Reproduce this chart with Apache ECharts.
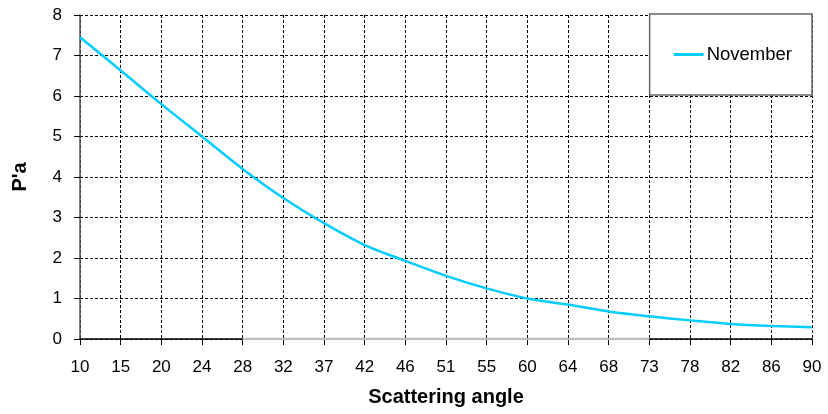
<!DOCTYPE html>
<html>
<head>
<meta charset="utf-8">
<script src="https://cdn.jsdelivr.net/npm/echarts@6/dist/echarts.min.js"></script>
<style>
  html, body { margin: 0; padding: 0; background: #fff; }
  #chart { width: 828px; height: 414px; }
</style>
</head>
<body>
<div id="chart"></div>
<script>
// Scattering angle categories (degrees)
const angles = ['10', '15', '20', '24', '28', '32', '37', '42', '46', '51', '55', '60', '64', '68', '73', '78', '82', '86', '90'];
// P'a values for November
const november = [7.45, 6.63, 5.8, 5.0, 4.2, 3.48, 2.86, 2.32, 1.93, 1.56, 1.25, 1.0, 0.85, 0.68, 0.56, 0.46, 0.37, 0.32, 0.29];
// Baseline trace lying on zero
const baseline = [null, null, null, null, 0, 0, 0, 0, 0, 0, 0, 0, 0, 0, 0, null, null, null, null];
const yTicks = { min: 0, max: 8, interval: 1 };

const font = '"Liberation Sans", Arial, sans-serif';
const chart = echarts.init(document.getElementById('chart'), null, { renderer: 'canvas' });

chart.setOption({
  animation: false,
  backgroundColor: '#ffffff',
  grid: { left: 80, right: 16, top: 15, bottom: 75, containLabel: false },
  legend: {
    data: ['November'],
    right: 16,
    top: 14,
    padding: [31, 20, 31, 24],
    backgroundColor: '#ffffff',
    borderColor: '#666666',
    borderWidth: 1.5,
    borderRadius: 0,
    itemWidth: 30,
    itemHeight: 3,
    itemGap: 4,
    icon: 'rect',
    textStyle: { fontFamily: font, fontSize: 18.5, color: '#000', padding: [0, 0, 0, -2] }
  },
  xAxis: {
    type: 'category',
    data: angles,
    boundaryGap: false,
    name: 'Scattering angle',
    nameLocation: 'middle',
    nameGap: 48,
    nameTextStyle: { fontFamily: font, fontSize: 20, fontWeight: 'bold', color: '#000' },
    axisLine: { show: true, lineStyle: { color: '#000', width: 1.5 } },
    axisTick: { show: true, alignWithLabel: true, length: 6, lineStyle: { color: '#000' } },
    axisLabel: { fontFamily: font, fontSize: 17, color: '#000', margin: 20, interval: 0 },
    splitLine: { show: true, lineStyle: { color: '#000', type: [3, 2], width: 1 } }
  },
  yAxis: {
    type: 'value',
    min: yTicks.min,
    max: yTicks.max,
    interval: yTicks.interval,
    name: "P'a",
    nameLocation: 'middle',
    nameGap: 50,
    nameRotate: 90,
    nameTextStyle: { fontFamily: font, fontSize: 20, fontWeight: 'bold', color: '#000' },
    axisLine: { show: true, lineStyle: { color: '#555', width: 1.5 } },
    axisTick: { show: true, length: 6, lineStyle: { color: '#000' } },
    axisLabel: { fontFamily: font, fontSize: 17, color: '#000', margin: 18 },
    splitLine: { show: true, lineStyle: { color: '#000', type: [3, 2], width: 1 } }
  },
  series: [
    {
      name: 'baseline',
      type: 'line',
      data: baseline,
      symbol: 'none',
      silent: true,
      lineStyle: { color: '#bdbdbd', width: 2.5 },
      z: 1
    },
    {
      name: 'November',
      type: 'line',
      data: november,
      smooth: 0.3,
      symbol: 'none',
      color: '#00ccff',
      lineStyle: { color: '#00ccff', width: 2.5 },
      z: 3
    }
  ]
});
</script>
</body>
</html>
